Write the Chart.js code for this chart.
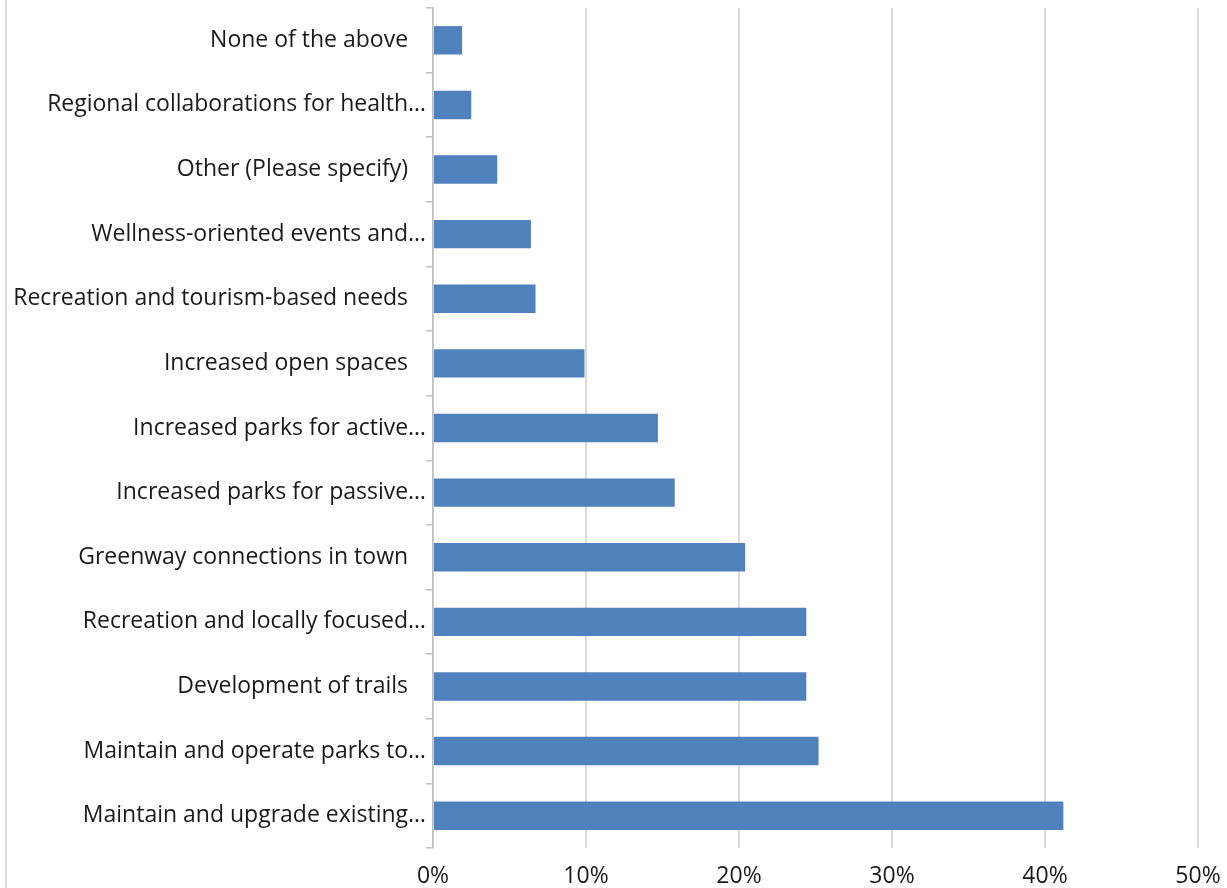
<!DOCTYPE html>
<html>
<head>
<meta charset="utf-8">
<script src="https://cdn.jsdelivr.net/npm/chart.js@4.4.1/dist/chart.umd.min.js"></script>
<style>
  html, body { margin: 0; padding: 0; background: #fff; }
  #wrap { width: 1227px; height: 888px; position: relative; }
</style>
</head>
<body>
<div id="wrap"><canvas id="chart"></canvas></div>
<script>
// Categories, top to bottom as shown
const categories = [
    'None of the above',
    'Regional collaborations for health\u2026',
    'Other (Please specify)',
    'Wellness-oriented events and\u2026',
    'Recreation and tourism-based needs',
    'Increased open spaces',
    'Increased parks for active\u2026',
    'Increased parks for passive\u2026',
    'Greenway connections in town',
    'Recreation and locally focused\u2026',
    'Development of trails',
    'Maintain and operate parks to\u2026',
    'Maintain and upgrade existing\u2026'
];

// Share of responses (%)
const shares = [1.9, 2.5, 4.2, 6.4, 6.7, 9.9, 14.7, 15.8, 20.4, 24.4, 24.4, 25.2, 41.2];

const xTicks = [0, 10, 20, 30, 40, 50];

const fontFamily = '"Open Sans", sans-serif';

// light border on the left edge of the chart
const leftBorder = {
    id: 'leftBorder',
    beforeDraw(chart) {
        const ctx = chart.ctx;
        ctx.save();
        ctx.strokeStyle = '#d9d9d9';
        ctx.lineWidth = 2;
        ctx.beginPath();
        ctx.moveTo(6, 0);
        ctx.lineTo(6, chart.height);
        ctx.stroke();
        ctx.restore();
    }
};

new Chart(document.getElementById('chart'), {
    type: 'bar',
    data: {
        labels: categories,
        datasets: [{
            data: shares,
            backgroundColor: '#4f81bd',
            barPercentage: 1,
            categoryPercentage: 0.44
        }]
    },
    options: {
        indexAxis: 'y',
        responsive: true,
        maintainAspectRatio: false,
        animation: false,
        layout: { padding: { top: 8, right: 29, left: 0, bottom: 0 } },
        plugins: {
            legend: { display: false },
            tooltip: { enabled: false }
        },
        scales: {
            x: {
                min: 0,
                max: 50,
                afterBuildTicks(scale) {
                    scale.ticks = xTicks.map(v => ({ value: v }));
                },
                afterFit(scale) {
                    scale.height = 40;
                    scale.paddingLeft = 0;
                    scale.paddingRight = 0;
                },
                ticks: {
                    callback: v => v + '%',
                    color: '#1a1a1a',
                    font: { family: fontFamily, size: 23 },
                    padding: 15,
                    maxRotation: 0
                },
                grid: {
                    color: '#d9d9d9',
                    lineWidth: 2,
                    drawTicks: false
                },
                border: { display: false }
            },
            y: {
                afterFit(scale) {
                    scale.width = 433;
                    scale.paddingTop = 0;
                    scale.paddingBottom = 0;
                },
                ticks: {
                    // full labels sit a little further from the axis than cut ones
                    callback(v) {
                        const s = this.getLabelForValue(v);
                        return s.endsWith('\u2026') ? s : s + '   ';
                    },
                    color: '#1a1a1a',
                    font: { family: fontFamily, size: 23 },
                    padding: 0,
                    autoSkip: false
                },
                grid: {
                    drawOnChartArea: false,
                    color: '#bfbfbf',
                    lineWidth: 1.5,
                    tickLength: 7
                },
                border: { color: '#bfbfbf', width: 1.5 }
            }
        }
    },
    plugins: [leftBorder]
});
</script>
</body>
</html>
